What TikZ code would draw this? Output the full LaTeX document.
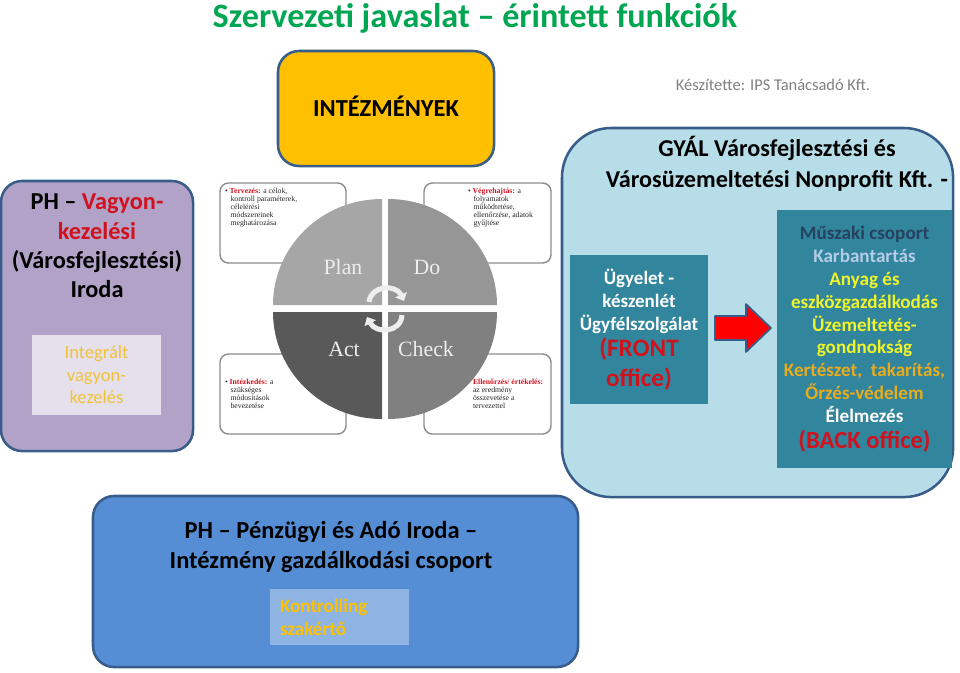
\documentclass[tikz,border=0pt]{standalone}
\usepackage{fontspec}
\setmainfont{Carlito}
\newfontfamily\serifont{Liberation Serif}
\usetikzlibrary{arrows.meta}
\definecolor{edgeblue}{HTML}{385D8A}
\definecolor{tealbox}{HTML}{31859C}
\definecolor{skybox}{HTML}{B7DDE8}
\definecolor{purplebox}{HTML}{B3A2C7}
\definecolor{paleviolet}{HTML}{E6E0EC}
\definecolor{bluebox}{HTML}{558ED5}
\definecolor{paleblue}{HTML}{8EB4E3}
\definecolor{goldbox}{HTML}{FFC000}
\definecolor{titlegreen}{HTML}{00A651}
\definecolor{redtext}{HTML}{D0121F}
\definecolor{softorange}{HTML}{EFC23A}
\definecolor{softyellow}{HTML}{F0F52A}
\definecolor{softgold}{HTML}{E8AC1E}
\definecolor{softblue}{HTML}{B4CCE6}
\newcommand{\fsz}[2]{\fontsize{#1}{#2}\selectfont}
\newcommand{\noteind}{\hspace*{4pt}}
\tikzstyle{every node}=[inner sep=0pt,outer sep=0pt,align=center]
\tikzstyle{every path}=[line cap=round,line join=round]
\tikzstyle{panel}=[draw=edgeblue,line width=1.8pt,rounded corners=15pt,anchor=north west]
\tikzstyle{flat}=[anchor=north west]
\tikzstyle{notebox}=[draw=gray!90,line width=1pt,rounded corners=6pt,fill=white]
\tikzstyle{notetext}=[anchor=north west,align=left,font=\serifont\fsz{5.5}{5.7},text=black!85]
\tikzstyle{quarter}=[text=white!93!black,font=\serifont\fsz{15.5}{18}]
\tikzstyle{turn}=[draw=white!93!black,line width=3.6pt,line cap=butt,-{Triangle[length=5pt,width=9pt]}]
\begin{document}
\begin{tikzpicture}[x=0.025cm,y=-0.025cm]
\useasboundingbox (0,0) rectangle (960,672);
\node[text=titlegreen,font=\bfseries\fsz{24.3}{28}] (title) at (475,18) {Szervezeti javaslat -- érintett funkciók};
\node[panel,fill=goldbox,minimum width=216*0.7113pt,minimum height=115*0.7113pt] (intezmenyek) at (278,51) {};
\node[font=\bfseries\fsz{17.4}{20}] (intezmenyektext) at (386,106) {INTÉZMÉNYEK};
\node[text=black!50,font=\fsz{11.7}{14}] (keszitette) at (773,85) {Készítette: IPS Tanácsadó Kft.};

% left side
\node[panel,fill=purplebox,minimum width=192*0.7113pt,minimum height=270*0.7113pt] (iroda) at (1,181) {};
\node[font=\bfseries\fsz{17.3}{20.8}] (irodatext) at (97,246) {PH -- \textcolor{redtext}{Vagyon-}\\\textcolor{redtext}{kezelési}\\(Városfejlesztési)\\Iroda};
\node[flat,fill=paleviolet,minimum width=129*0.7113pt,minimum height=80*0.7113pt,text=softorange,font=\fsz{13.2}{16}] (integralt) at (32,335) {Integrált\\vagyon-\\kezelés};

% the four notes and the circle
\node[notebox,flat,minimum width=126*0.7113pt,minimum height=80*0.7113pt] (tervbox) at (220,183) {};
\node[notebox,flat,minimum width=127*0.7113pt,minimum height=80*0.7113pt] (vegrebox) at (424,183) {};
\node[notebox,flat,minimum width=126*0.7113pt,minimum height=80*0.7113pt] (intebox) at (220,354) {};
\node[notebox,flat,minimum width=127*0.7113pt,minimum height=80*0.7113pt] (ellenbox) at (424,354) {};
\node[notetext] (tervtext) at (225,188) {\textbullet\ \textcolor{redtext}{\textbf{Tervezés:}} a célok,\\\noteind kontroll paraméterek,\\\noteind célelérési\\\noteind módszereinek\\\noteind meghatározása};
\node[notetext] (vegretext) at (468,188) {\textbullet\ \textcolor{redtext}{\textbf{Végrehajtás:}} a\\\noteind folyamatok\\\noteind működtetése,\\\noteind ellenőrzése, adatok\\\noteind gyűjtése};
\node[notetext] (intetext) at (225,379) {\textbullet\ \textcolor{redtext}{\textbf{Intézkedés:}} a\\\noteind szükséges\\\noteind módosítások\\\noteind bevezetése};
\node[notetext] (ellentext) at (473,379) {\textcolor{redtext}{\textbf{Ellenőrzés/ értékelés:}}\\az eredmény\\összevetése a\\tervezettel};

\fill[black!35] (382,305)--(273,305) arc[start angle=180,end angle=90,x radius=109,y radius=-106]--cycle;
\fill[black!41] (388,305)--(497,305) arc[start angle=0,end angle=90,x radius=109,y radius=-106]--cycle;
\fill[black!65] (382,312)--(273,312) arc[start angle=180,end angle=270,x radius=109,y radius=-107]--cycle;
\fill[black!50] (388,312)--(497,312) arc[start angle=0,end angle=-90,x radius=109,y radius=-107]--cycle;
\node[quarter] (plan) at (343,267) {Plan};
\node[quarter] (do) at (427,267) {Do};
\node[quarter] (act) at (344,349) {Act};
\node[quarter] (check) at (426,349) {Check};
\draw[turn] (369,302) .. controls (371,285) and (396,284) .. (404,301);
\draw[turn] (402,315) .. controls (401,333) and (376,334) .. (367,317);

% right side
\node[panel,fill=skybox,rounded corners=35pt,minimum width=391*0.7113pt,minimum height=369*0.7113pt] (kft) at (562,128) {};
\node[font=\bfseries\fsz{17.2}{22}] (kfttext) at (777,163.5) {GYÁL Városfejlesztési és\\Városüzemeltetési Nonprofit Kft. -};
\node[flat,fill=tealbox,minimum width=138*0.7113pt,minimum height=149*0.7113pt,text=white,font=\bfseries\fsz{13.5}{16.36}] (front) at (570,255) {Ügyelet -\\készenlét\\Ügyfélszolgálat\\[2pt]\textcolor{redtext}{\fsz{17.9}{16.36}(FRONT}\\[5pt]\textcolor{redtext}{\fsz{17.9}{16.36}office)}};
\node[flat,fill=tealbox,minimum width=175*0.7113pt,minimum height=258*0.7113pt,text=white,font=\bfseries\fsz{13.6}{16.3}] (back) at (777,210) {\textcolor{edgeblue!70!black}{Műszaki csoport}\\\textcolor{softblue}{Karbantartás}\\\textcolor{softyellow}{Anyag és}\\\textcolor{softyellow}{eszközgazdálkodás}\\\textcolor{softyellow}{Üzemeltetés-}\\\textcolor{softyellow}{gondnokság}\\\textcolor{softgold}{Kertészet,\ \ takarítás,}\\\textcolor{softgold}{Őrzés-védelem}\\Élelmezés\\[2pt]\textcolor{redtext}{\fsz{17.5}{16.3}(BACK office)}};
\draw[draw=edgeblue,line width=1.2pt,fill=red] (715,316)--(746,316)--(746,304)--(771,328)--(746,352)--(746,340)--(715,340)--cycle;

% bottom
\node[panel,fill=bluebox,minimum width=485*0.7113pt,minimum height=171*0.7113pt] (penzugy) at (93,496) {};
\node[font=\bfseries\fsz{17.4}{21.3}] (penzugytext) at (331,547) {PH -- Pénzügyi és Adó Iroda --\\Intézmény gazdálkodási csoport};
\node[flat,fill=paleblue,minimum width=139*0.7113pt,minimum height=56*0.7113pt] (kontroll) at (270,589) {};
\node[anchor=west,align=left,text=goldbox,font=\bfseries\fsz{13.6}{16.2}] (kontrolltext) at (280,617) {Kontrolling\\szakértő};
\end{tikzpicture}
\end{document}
